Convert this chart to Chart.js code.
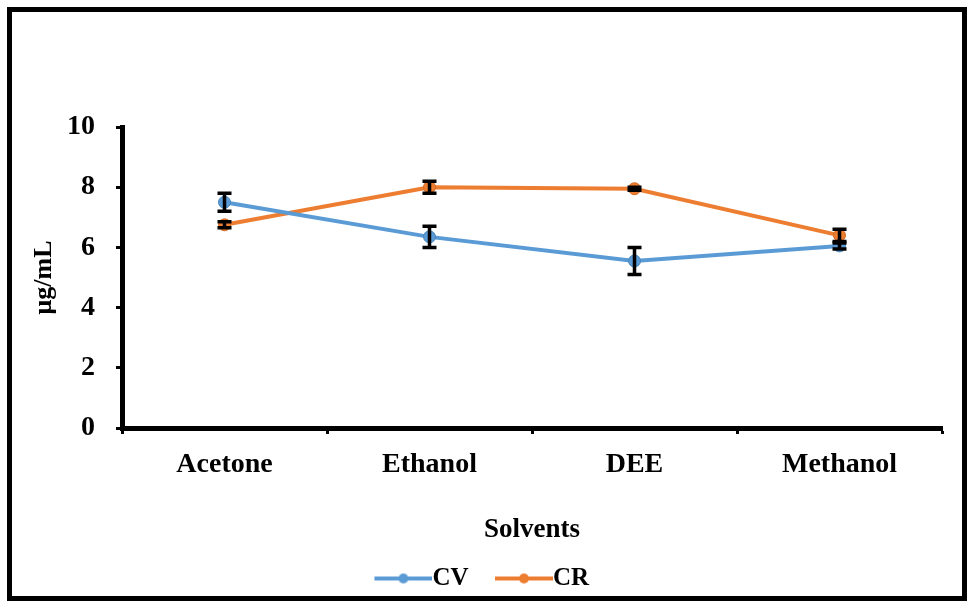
<!DOCTYPE html>
<html>
<head>
<meta charset="utf-8">
<script src="https://cdn.jsdelivr.net/npm/chart.js@4"></script>
<style>
  html, body { margin: 0; padding: 0; background: #fff; }
  #wrap { width: 968px; height: 603px; }
</style>
</head>
<body>
<div id="wrap"><canvas id="myChart" width="968" height="603"></canvas></div>
<script>
const solvents = ['Acetone', 'Ethanol', 'DEE', 'Methanol'];
const cvValues = [7.5, 6.35, 5.55, 6.05];
const cvErrors = [0.3, 0.35, 0.45, 0.1];
const crValues = [6.75, 8.0, 7.95, 6.4];
const crErrors = [0.1, 0.2, 0.05, 0.2];
const yTicks = [0, 2, 4, 6, 8, 10];

const serif = "'Liberation Serif', 'Times New Roman', serif";

// line + dot sample for the legend; the line sits on the right so it meets the text
function legendIcon(color) {
  const c = document.createElement('canvas');
  c.width = 77; c.height = 14;
  const g = c.getContext('2d');
  g.strokeStyle = color; g.lineWidth = 4;
  g.beginPath(); g.moveTo(19, 7); g.lineTo(77, 7); g.stroke();
  g.fillStyle = color;
  g.beginPath(); g.arc(48, 7, 5, 0, Math.PI * 2); g.fill();
  return c;
}

const errorBars = {
  id: 'errorBars',
  afterDatasetsDraw(chart) {
    const ctx = chart.ctx;
    const y = chart.scales.y;
    ctx.save();
    ctx.strokeStyle = '#000';
    ctx.lineWidth = 3.5;
    chart.data.datasets.forEach((ds, i) => {
      const meta = chart.getDatasetMeta(i);
      meta.data.forEach((pt, j) => {
        const top = y.getPixelForValue(ds.data[j] + ds.errors[j]);
        const bot = y.getPixelForValue(ds.data[j] - ds.errors[j]);
        ctx.beginPath();
        ctx.moveTo(pt.x, top); ctx.lineTo(pt.x, bot);
        ctx.moveTo(pt.x - 7, top); ctx.lineTo(pt.x + 7, top);
        ctx.moveTo(pt.x - 7, bot); ctx.lineTo(pt.x + 7, bot);
        ctx.stroke();
      });
    });
    ctx.restore();
  }
};

const frame = {
  id: 'frame',
  afterDraw(chart) {
    const ctx = chart.ctx;
    ctx.save();
    ctx.strokeStyle = '#000';
    ctx.lineWidth = 5;
    ctx.strokeRect(9.5, 9.5, chart.width - 13, chart.height - 14);
    ctx.restore();
  }
};

const ctx = document.getElementById('myChart');

new Chart(ctx, {
  type: 'line',
  data: {
    labels: solvents,
    datasets: [{
      label: 'CV',
      data: cvValues,
      errors: cvErrors,
      borderColor: '#5B9BD5',
      backgroundColor: '#5B9BD5',
      borderWidth: 4,
      pointRadius: 6,
      pointBorderColor: '#4A86BE',
      pointBorderWidth: 1
    }, {
      label: 'CR',
      data: crValues,
      errors: crErrors,
      borderColor: '#ED7D31',
      backgroundColor: '#ED7D31',
      borderWidth: 4,
      pointRadius: 6,
      pointBorderColor: '#D46A22',
      pointBorderWidth: 1
    }]
  },
  plugins: [errorBars, frame],
  options: {
    responsive: false,
    animation: false,
    layout: { padding: { top: 127, left: 15, right: 26, bottom: 2 } },
    scales: {
      x: {
        offset: true,
        grid: { offset: true, drawOnChartArea: false, drawTicks: true, tickLength: 6, tickWidth: 3, tickColor: '#000' },
        border: { color: '#000', width: 5 },
        ticks: { color: '#000', padding: 14, font: { family: serif, size: 28, weight: 'bold' } },
        title: { display: true, text: 'Solvents', color: '#000', padding: 0, font: { family: serif, size: 27, weight: 'bold' } },
        afterFit(scale) { scale.height = 118; }
      },
      y: {
        min: 0,
        max: 10,
        afterBuildTicks(scale) { scale.ticks = yTicks.map(v => ({ value: v })); },
        grid: { drawOnChartArea: false, drawTicks: true, tickLength: 6, tickWidth: 3, tickColor: '#000' },
        border: { color: '#000', width: 5 },
        ticks: { color: '#000', padding: 21, font: { family: serif, size: 28, weight: 'bold' } },
        title: { display: true, text: 'μg/mL', color: '#000', padding: { top: 14, bottom: 0 }, font: { family: serif, size: 26, weight: 'bold' } },
        afterFit(scale) { scale.width = 107; }
      }
    },
    plugins: {
      tooltip: { enabled: false },
      legend: {
        position: 'bottom',
        labels: {
          color: '#000',
          usePointStyle: true,
          pointStyleWidth: 52,
          boxHeight: 14,
          padding: 20,
          font: { family: serif, size: 25, weight: 'bold' },
          generateLabels(chart) {
            return chart.data.datasets.map((ds, i) => ({
              text: ds.label,
              fillStyle: ds.borderColor,
              strokeStyle: ds.borderColor,
              fontColor: '#000',
              pointStyle: legendIcon(ds.borderColor),
              datasetIndex: i,
              hidden: false,
              lineWidth: 0
            }));
          }
        }
      }
    }
  }
});
</script>
</body>
</html>
